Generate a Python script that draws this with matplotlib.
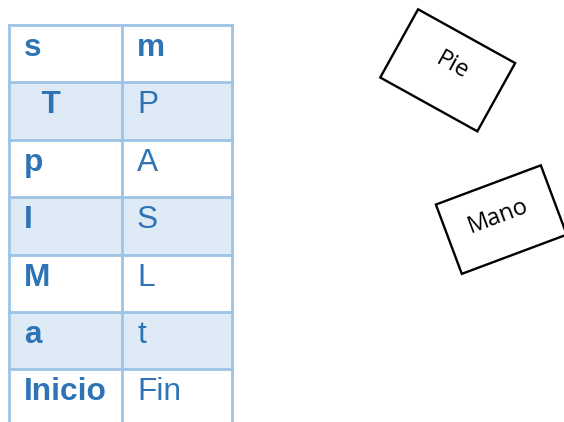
import matplotlib.pyplot as plt
from matplotlib.patches import Rectangle

# --- datos ---
col_izq = ["s", "  T", "p", "I", "M", "a", "Inicio"]
col_der = ["m", "P", "A", "S", "L", "t", "Fin"]
filas_sombreadas = [1, 3, 5]
cajas = ["Pie", "Mano"]

# --- estilo ---
W, H = 564, 422
AZUL_TXT = "#2E74B5"
AZUL_LINEA = "#9DC3E6"
AZUL_FONDO = "#DEEAF6"

x_izq, x_div, x_der = 9, 122, 232
y0, alto_fila = 25, 57.4

fig = plt.figure(figsize=(W / 100, H / 100), dpi=100)
ax = fig.add_axes([0, 0, 1, 1])
ax.set_xlim(0, W)
ax.set_ylim(H, 0)
ax.axis("off")

n = len(col_izq)
for i in range(n):
    top = y0 + i * alto_fila
    if i in filas_sombreadas:
        ax.add_patch(Rectangle((x_izq, top), x_der - x_izq, alto_fila,
                               facecolor=AZUL_FONDO, edgecolor="none", zorder=1))
    ax.text(x_izq + 15, top + 31, col_izq[i], color=AZUL_TXT, fontsize=22.8,
            fontweight="bold", family="Liberation Sans", va="baseline", ha="left", zorder=3)
    ax.text(x_div + 15, top + 31, col_der[i], color=AZUL_TXT, fontsize=22.8,
            fontweight="bold" if i == 0 else "normal", family="Liberation Sans",
            va="baseline", ha="left", zorder=3)

# lineas de la tabla
y_fin = y0 + n * alto_fila
for i in range(n):
    y = y0 + i * alto_fila
    ax.plot([x_izq, x_der], [y, y], color=AZUL_LINEA, lw=2.0, zorder=2,
            solid_capstyle="projecting")
for x in [x_izq, x_div, x_der]:
    ax.plot([x, x], [y0, y_fin], color=AZUL_LINEA, lw=2.0, zorder=2,
            solid_capstyle="projecting")

# cajas giradas (eje y invertido: angulo del rectangulo = -giro visual)
centros = [(447.7, 70.3), (501.3, 219.6)]
centros_txt = [(452, 66), (498, 216)]
tamanos = [(111, 78), (112, 74)]
giros = [-29, 20.5]
for nombre, (cx, cy), (tx, ty), (w, h), g in zip(cajas, centros, centros_txt, tamanos, giros):
    ax.add_patch(Rectangle((cx - w / 2, cy - h / 2), w, h, angle=-g,
                           rotation_point="center", facecolor="white",
                           edgecolor="black", lw=1.7, zorder=2))
    ax.text(tx, ty, nombre, rotation=g, rotation_mode="anchor",
            ha="center", va="center", fontsize=17, family="Open Sans", zorder=3)

fig.savefig("out.png", dpi=100)
